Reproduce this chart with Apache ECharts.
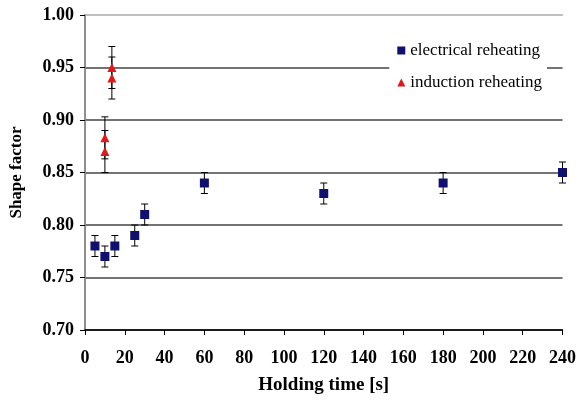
<!DOCTYPE html>
<html><head><meta charset="utf-8">
<script src="https://cdn.jsdelivr.net/npm/echarts@6/dist/echarts.min.js"></script>
<style>html,body{margin:0;padding:0;background:#fff}#c{width:579px;height:400px}</style>
</head><body><div id="c"></div>
<script>
const elecX = [5, 10, 15, 25, 30, 60, 120, 180, 240];
const elecY = [0.78, 0.77, 0.78, 0.79, 0.81, 0.84, 0.83, 0.84, 0.85];
const elecErr = [0.01, 0.01, 0.01, 0.01, 0.01, 0.01, 0.01, 0.01, 0.01];
const indX = [10, 10, 13.5, 13.5];
const indY = [0.87, 0.883, 0.94, 0.95];
const indErr = [0.02, 0.02, 0.02, 0.02];
const xTicks = [0, 20, 40, 60, 80, 100, 120, 140, 160, 180, 200, 220, 240];
const yTicks = [0.70, 0.75, 0.80, 0.85, 0.90, 0.95, 1.00];

const font = 'Liberation Serif';
function errData(xs, ys, es){ return xs.map((x,i)=>[x, ys[i]-es[i], ys[i]+es[i]]); }
function errRender(params, api){
  const lo = api.coord([api.value(0), api.value(1)]);
  const hi = api.coord([api.value(0), api.value(2)]);
  const w = 3.5;
  const st = {stroke:'#000', lineWidth:1};
  return {type:'group', children:[
    {type:'line', shape:{x1:lo[0], y1:lo[1], x2:hi[0], y2:hi[1]}, style:st},
    {type:'line', shape:{x1:lo[0]-w, y1:lo[1], x2:lo[0]+w, y2:lo[1]}, style:st},
    {type:'line', shape:{x1:hi[0]-w, y1:hi[1], x2:hi[0]+w, y2:hi[1]}, style:st}
  ]};
}
const G = '#444', N = 'rgba(0,0,0,0)';
const chart = echarts.init(document.getElementById('c'));
chart.setOption({
  animation:false,
  backgroundColor:'#fff',
  textStyle:{fontFamily:font},
  grid:{left:83, right:13, top:15, bottom:70},
  legend:{
    data:[{name:'electrical reheating', icon:'rect'},{name:'induction reheating', icon:'triangle'}],
    orient:'vertical', right:32, top:34, backgroundColor:'#fff',
    padding:[8,5,8,8], itemWidth:8, itemHeight:8, itemGap:15,
    textStyle:{fontFamily:font, fontSize:17, color:'#000'}
  },
  xAxis:[{
    type:'value', min:0, max:240, interval:20,
    name:'Holding time [s]', nameLocation:'middle', nameGap:46,
    nameTextStyle:{fontFamily:font, fontSize:19, fontWeight:'bold', color:'#000'},
    axisLine:{lineStyle:{color:'#000', width:1.5}},
    axisTick:{show:true, length:5, lineStyle:{color:'#000'}},
    axisLabel:{fontFamily:font, fontSize:18, fontWeight:'bold', color:'#000', margin:19,
      formatter:v=>xTicks.includes(v)?String(v):''},
    splitLine:{show:false}
  },{
    type:'value', min:0, max:240, position:'top',
    axisLine:{show:true, lineStyle:{color:'#aaa', width:1.5}},
    axisTick:{show:false}, axisLabel:{show:false}, splitLine:{show:false}
  }],
  yAxis:[{
    type:'value', min:0.70, max:1.00, interval:0.05,
    name:'Shape factor', nameLocation:'middle', nameGap:60, nameRotate:90,
    nameTextStyle:{fontFamily:font, fontSize:17, fontWeight:'bold', color:'#000'},
    axisLine:{show:true, lineStyle:{color:'#000', width:1.5}},
    axisTick:{show:true, length:5, lineStyle:{color:'#000'}},
    axisLabel:{fontFamily:font, fontSize:18, fontWeight:'bold', color:'#000', margin:11,
      formatter:v=>{const t=yTicks.find(y=>Math.abs(y-v)<1e-6); return t===undefined?'':t.toFixed(2);}},
    splitLine:{show:true, lineStyle:{color:[G,G,G,G,G,G,N], width:1.5}}
  },{
    type:'value', min:0.70, max:1.00, position:'right',
    axisLine:{show:true, lineStyle:{color:'#aaa', width:1.5}},
    axisTick:{show:false}, axisLabel:{show:false}, splitLine:{show:false}
  }],
  series:[
    {name:'elecErr', type:'custom', renderItem:errRender, data:errData(elecX, elecY, elecErr), z:2, encode:{x:0, y:[1,2]}, silent:true},
    {name:'indErr', type:'custom', renderItem:errRender, data:errData(indX, indY, indErr), z:2, encode:{x:0, y:[1,2]}, silent:true},
    {name:'electrical reheating', type:'scatter', symbol:'rect', symbolSize:9,
      itemStyle:{color:'#10106e', opacity:1}, z:5, data:elecX.map((x,i)=>[x, elecY[i]])},
    {name:'induction reheating', type:'scatter', symbol:'triangle', symbolSize:9,
      itemStyle:{color:'#e01818', opacity:1}, z:5, data:indX.map((x,i)=>[x, indY[i]])}
  ]
});
</script></body></html>
